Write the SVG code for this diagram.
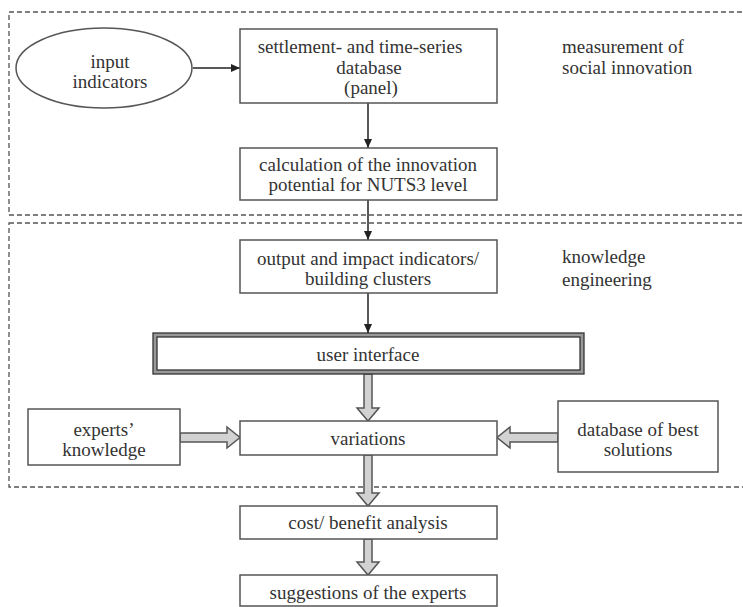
<svg xmlns="http://www.w3.org/2000/svg" width="743" height="607" viewBox="0 0 743 607">
<style>
.t{font-family:"Liberation Serif","Times New Roman",serif;font-size:19px;fill:#333;text-anchor:middle}
.l{font-family:"Liberation Serif","Times New Roman",serif;font-size:19px;fill:#333;text-anchor:start}
.box{fill:#fff;stroke:#555;stroke-width:1.5}
.dash{fill:none;stroke:#555;stroke-width:1.3;stroke-dasharray:5 3}
.line{stroke:#222;stroke-width:1.5;fill:none}
.block{fill:#d2d2d2;stroke:#555;stroke-width:1.5;stroke-linejoin:miter}
</style>
<defs>
<marker id="ah" markerWidth="10" markerHeight="10" refX="9" refY="5" orient="auto" markerUnits="userSpaceOnUse">
<path d="M0,1 L9,5 L0,9 Z" fill="#222"/>
</marker>
</defs>
<rect width="743" height="607" fill="#fff"/>
<g id="regions">
<rect class="dash" x="9" y="12" width="745" height="203"/>
<rect class="dash" x="9" y="223" width="745" height="264"/>
<text class="l" x="562" y="53">measurement of</text>
<text class="l" x="562" y="74">social innovation</text>
<text class="l" x="562" y="263">knowledge</text>
<text class="l" x="562" y="286">engineering</text>
</g>
<g id="connectors">
<line class="line" x1="193" y1="68" x2="240" y2="68" marker-end="url(#ah)"/>
<line class="line" x1="368" y1="103" x2="368" y2="148" marker-end="url(#ah)"/>
<line class="line" x1="368" y1="200" x2="368" y2="240" marker-end="url(#ah)"/>
<line class="line" x1="368" y1="293" x2="368" y2="333" marker-end="url(#ah)"/>
<polygon class="block" points="364,374 372,374 372,408 379,408 368,421 357,408 364,408"/>
<polygon class="block" points="364,455 372,455 372,493 379,493 368,506 357,493 364,493"/>
<polygon class="block" points="364,539 372,539 372,562 379,562 368,575 357,562 364,562"/>
<polygon class="block" points="180,433 227,433 227,427 240,437.5 227,448 227,442 180,442"/>
<polygon class="block" points="558,433 510,433 510,427 497,437.5 510,448 510,442 558,442"/>
</g>
<g id="input">
<ellipse class="box" cx="104" cy="68" rx="88" ry="40"/>
<text class="t" x="110" y="68">input</text>
<text class="t" x="110" y="88">indicators</text>
</g>
<g id="database">
<rect class="box" x="240" y="29" width="257" height="74"/>
<text class="t" x="360" y="53">settlement- and time-series</text>
<text class="t" x="369" y="74">database</text>
<text class="t" x="371" y="94">(panel)</text>
</g>
<g id="calculation">
<rect class="box" x="240" y="148" width="257" height="52"/>
<text class="t" x="368" y="171">calculation of the innovation</text>
<text class="t" x="368" y="191">potential for NUTS3 level</text>
</g>
<g id="output">
<rect class="box" x="240" y="240" width="257" height="53"/>
<text class="t" x="368" y="265">output and impact indicators/</text>
<text class="t" x="368" y="285">building clusters</text>
</g>
<g id="userinterface">
<rect x="153" y="333" width="431" height="41" fill="#999" stroke="#333" stroke-width="1.3"/>
<rect x="157" y="337" width="423" height="33" fill="#fff" stroke="#333" stroke-width="1.3"/>
<text class="t" x="368" y="361">user interface</text>
</g>
<g id="experts">
<rect class="box" x="28" y="409" width="152" height="56"/>
<text class="t" x="104" y="436">experts’</text>
<text class="t" x="104" y="456">knowledge</text>
</g>
<g id="variations">
<rect class="box" x="240" y="421" width="257" height="34"/>
<text class="t" x="368" y="445">variations</text>
</g>
<g id="bestsolutions">
<rect class="box" x="558" y="401" width="160" height="71"/>
<text class="t" x="638" y="436">database of best</text>
<text class="t" x="638" y="456">solutions</text>
</g>
<g id="cost">
<rect class="box" x="240" y="506" width="257" height="33"/>
<text class="t" x="368" y="529">cost/ benefit analysis</text>
</g>
<g id="suggestions">
<rect class="box" x="240" y="575" width="257" height="31"/>
<text class="t" x="368" y="599">suggestions of the experts</text>
</g>
</svg>
